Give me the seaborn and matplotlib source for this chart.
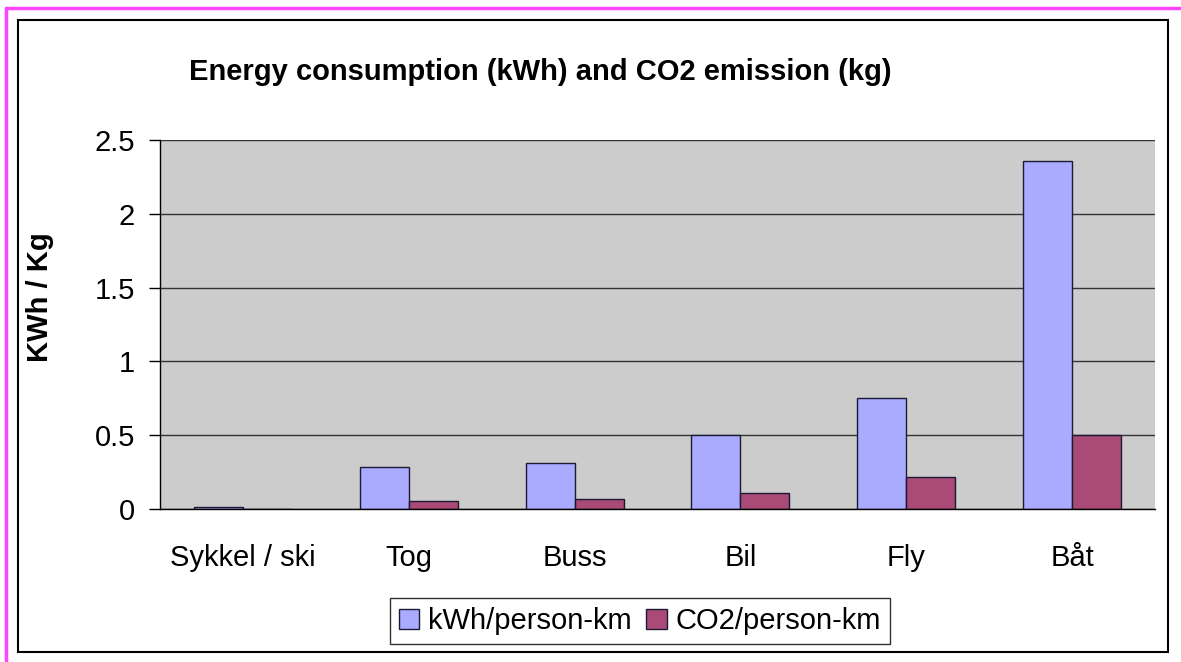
import matplotlib
matplotlib.use('Agg')
import matplotlib.pyplot as plt
import seaborn as sns
import pandas as pd
from matplotlib.patches import Rectangle
from matplotlib.lines import Line2D

# data
categories = ['Sykkel / ski', 'Tog', 'Buss', 'Bil', 'Fly', 'Båt']
kwh_per_pkm = [0.015, 0.285, 0.31, 0.5, 0.75, 2.36]
co2_per_pkm = [0.0, 0.055, 0.068, 0.108, 0.216, 0.5]
series_names = ['kWh/person-km', 'CO2/person-km']
bar_colors = ['#AAAAFF', '#A94A77']
y_ticks = [0, 0.5, 1, 1.5, 2, 2.5]
y_tick_labels = ['0', '0.5', '1', '1.5', '2', '2.5']

df = pd.DataFrame({
    'mode': categories + categories,
    'series': [series_names[0]] * len(categories) + [series_names[1]] * len(categories),
    'value': kwh_per_pkm + co2_per_pkm,
})

sns.set_theme(style='white')
plt.rcParams['font.family'] = ['Liberation Sans', 'DejaVu Sans']
plt.rcParams['text.color'] = 'black'

W, H = 1181, 662
fig = plt.figure(figsize=(W / 100, H / 100), dpi=100)
ax = fig.add_axes([160 / W, 1 - 509 / H, (1155 - 160) / W, (509 - 140) / H])

sns.barplot(data=df, x='mode', y='value', hue='series', hue_order=series_names,
            palette=bar_colors, width=0.59, gap=0, edgecolor='#1a1a33',
            linewidth=1, saturation=1, ax=ax)

ax.set_facecolor('#CCCCCC')
ax.set_xlim(-0.5, len(categories) - 0.5)
ax.set_ylim(0, 2.5)
ax.set_yticks(y_ticks)
ax.set_yticklabels(y_tick_labels)
ax.yaxis.grid(True, color='#333333', linewidth=1)
ax.set_axisbelow(True)
ax.set_xlabel('')
ax.set_ylabel('')

for side in ['top', 'right']:
    ax.spines[side].set_visible(False)
for side in ['left', 'bottom']:
    ax.spines[side].set_color('black')
    ax.spines[side].set_linewidth(1)

# category labels centred, tick marks between categories
ax.set_xticks([i - 0.5 for i in range(len(categories) + 1)], minor=True)
ax.tick_params(axis='x', which='major', length=0, pad=25, labelsize=21, labelcolor='black')
ax.tick_params(axis='x', which='minor', length=8, width=1, color='black', direction='out')
ax.tick_params(axis='y', length=8, width=1, color='black', direction='out', pad=10,
               labelsize=21, labelcolor='black', left=True)

fig.text(540 / W, 1 - 72 / H, 'Energy consumption (kWh) and CO2 emission (kg)',
         ha='center', va='center', fontsize=21, fontweight='bold', color='black')
fig.text(40 / W, 1 - 297 / H, 'KWh / Kg', rotation=90, ha='center', va='center',
         fontsize=21, fontweight='bold', color='black')

sns.move_legend(ax, 'center', bbox_to_anchor=(640 / W, 1 - 621 / H),
                bbox_transform=fig.transFigure, ncol=2, title=None, frameon=True,
                fancybox=False, fontsize=21, handlelength=0.7, handleheight=0.7,
                handletextpad=0.3, columnspacing=0.5, borderpad=0.3,
                edgecolor='black', labelcolor='black')
ax.get_legend().get_frame().set_linewidth(1)

# chart frame and outer pink border
fig.add_artist(Rectangle((18 / W, 1 - 652 / H), (1168 - 18) / W, (652 - 20) / H,
                         transform=fig.transFigure, fill=False, edgecolor='black', linewidth=1.5))
fig.add_artist(Line2D([6 / W, 6 / W], [0, 1 - 8 / H], transform=fig.transFigure,
                      color='#FF44FF', linewidth=2.5))
fig.add_artist(Line2D([6 / W, 1], [1 - 8 / H, 1 - 8 / H], transform=fig.transFigure,
                      color='#FF44FF', linewidth=2.5))

fig.savefig('out.png', dpi=100)
